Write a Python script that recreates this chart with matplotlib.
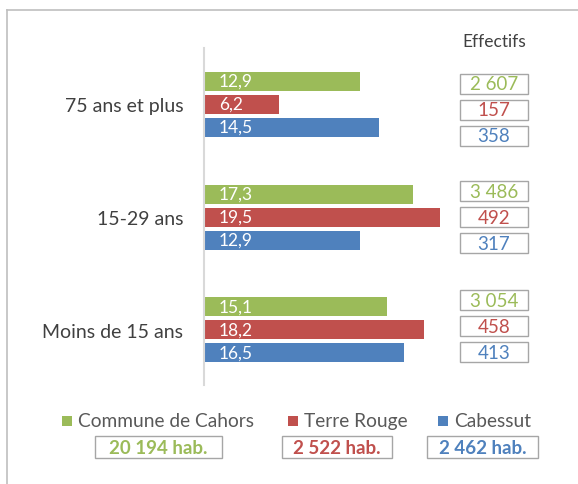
import matplotlib
matplotlib.use("Agg")
import matplotlib.pyplot as plt
from matplotlib.patches import Rectangle

plt.rcParams['font.family'] = ['Lato', 'DejaVu Sans']

categories = ["Moins de 15 ans", "15-29 ans", "75 ans et plus"]
series_names = ["Commune de Cahors", "Terre Rouge", "Cabessut"]
cahors = [15.1, 17.3, 12.9]
terre_rouge = [18.2, 19.5, 6.2]
cabessut = [16.5, 12.9, 14.5]
eff_cahors = ["3 054", "3 486", "2 607"]
eff_terre_rouge = ["458", "492", "157"]
eff_cabessut = ["413", "317", "358"]
totals = ["20 194 hab.", "2 522 hab.", "2 462 hab."]

colors = ["#9BBB59", "#C0504D", "#4F81BD"]
W, H = 578, 485

fig = plt.figure(figsize=(W / 100, H / 100), dpi=100)

def fx(x):
    return x / W

def fy(y):
    return 1 - y / H

# frame lines
frame_col = "#BFBFBF"
fig.add_artist(plt.Line2D([fx(7), fx(578)], [fy(11), fy(11)], color=frame_col, lw=1.2))
fig.add_artist(plt.Line2D([fx(7), fx(7)], [fy(11), fy(485)], color=frame_col, lw=1.2))

px_per_unit = 12.1
ax_left, ax_top, ax_bottom = 204, 49, 386
ax = fig.add_axes([fx(ax_left), fy(ax_bottom), 25 * px_per_unit / W, (ax_bottom - ax_top) / H])
ax.set_xlim(0, 25)
ax.set_ylim(-0.487, 2.496)

step = 23 / 113
bh = 19 / 113
series = [cahors, terre_rouge, cabessut]
offsets = [step, 0, -step]
for vals, off, col in zip(series, offsets, colors):
    ys = [i + off for i in range(len(categories))]
    ax.barh(ys, vals, height=bh, color=col)
    for y, v in zip(ys, vals):
        ax.annotate(f"{v:.1f}".replace(".", ","), xy=(0, y), xytext=(15, 0),
                    textcoords="offset pixels", ha="left", va="center",
                    color="white", fontsize=12.5)

# effectifs boxes
effs = [eff_cahors, eff_terre_rouge, eff_cabessut]
box_step = 26 / 113
box_h = 20 / 113
box_x0 = (460 - ax_left) / px_per_unit
box_w = 68 / px_per_unit
group_shift = [0.035, 0.0, -0.049]
for k, (labels, col) in enumerate(zip(effs, colors)):
    for i, lab in enumerate(labels):
        yc = i + group_shift[i] + (1 - k) * box_step
        ax.add_patch(Rectangle((box_x0, yc - box_h / 2), box_w, box_h,
                               facecolor="white", edgecolor="#A6A6A6", lw=1.0, clip_on=False))
        ax.text(box_x0 + box_w / 2, yc, lab, ha="center", va="center",
                color=col, fontsize=13.5, clip_on=False)

fig.text(fx(494), fy(42), "Effectifs", ha="center", va="center", color="#404040", fontsize=12.5)

ax.set_yticks(range(len(categories)))
ax.set_yticklabels(categories, fontsize=14, color="#404040")
ax.tick_params(axis="y", length=0, pad=15)
ax.set_xticks([])
for s in ["top", "right", "bottom"]:
    ax.spines[s].set_visible(False)
ax.spines["left"].set_color("#D9D9D9")
ax.spines["left"].set_linewidth(1.5)

# legend
leg_sq = [62, 288, 438]
leg_box = [(95, 222), (282, 392), (427, 538)]
for name, col, sx, (bx0, bx1), tot in zip(series_names, colors, leg_sq, leg_box, totals):
    fig.add_artist(Rectangle((fx(sx), fy(427)), 10 / W, 10 / H, facecolor=col,
                             edgecolor="none", transform=fig.transFigure))
    fig.text(fx(sx + 16), fy(422), name, ha="left", va="center", color="#595959", fontsize=13.8)
    fig.add_artist(Rectangle((fx(bx0), fy(459)), (bx1 - bx0) / W, 22 / H, facecolor="white",
                             edgecolor="#A6A6A6", lw=1.0, transform=fig.transFigure))
    fig.text(fx((bx0 + bx1) / 2), fy(448), tot, ha="center", va="center", color=col,
             fontsize=13.5, fontweight="bold")

fig.savefig("out.png", dpi=100)
